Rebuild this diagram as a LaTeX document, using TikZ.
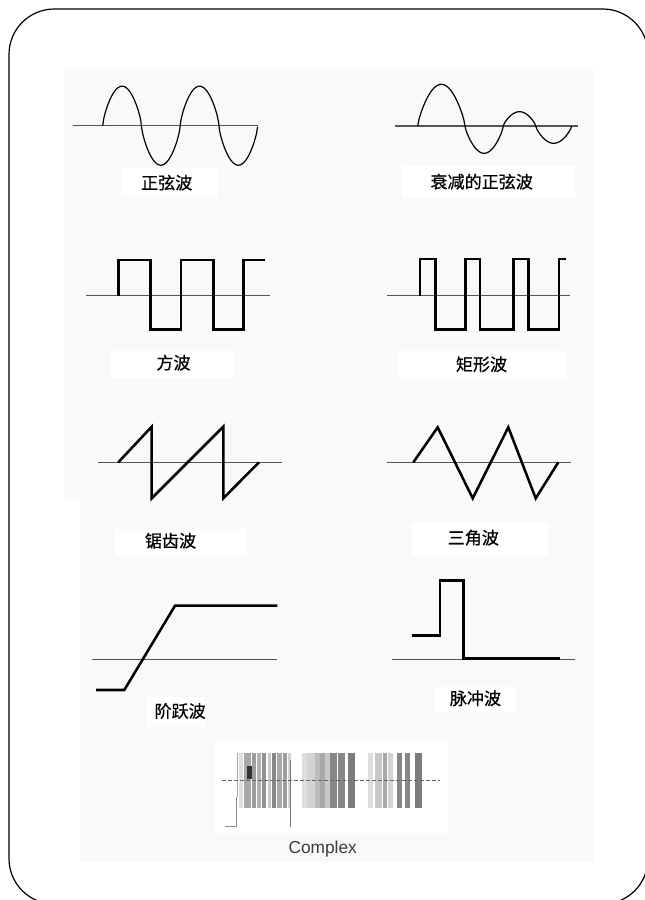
\documentclass[tikz,border=0pt]{standalone}
\usepackage{fontspec}
\newfontfamily\cjk[FakeBold=0.7]{Noto Sans CJK SC}
\newfontfamily\latinsans{Liberation Sans}
\usepackage{tikz}
\usetikzlibrary{calc}

\begin{document}
\begin{tikzpicture}[x=0.75pt,y=0.75pt,yscale=-1,xscale=1,
  axisline/.style={draw={rgb,255:red,85;green,85;blue,85},line width=0.8pt},
  wavethin/.style={draw=black,line width=0.9pt},
  wavethick/.style={draw=black,line width=1.9pt,line join=miter},
  labelbox/.style={fill=white,draw opacity=0},
  wavelabel/.style={inner sep=0.75pt,font=\cjk\fontsize{12.8}{15}\selectfont}]
\useasboundingbox (0,0) rectangle (645,900);

%Shape: Background
\fill [fill={rgb,255:red,249;green,249;blue,249}] (64,71) -- (594,71) -- (594,862) -- (80,862) -- (80,499) -- (64,499) -- cycle ;
%Shape: Rounded Frame
\draw [line width=0.9pt, rounded corners=34] (9,9) rectangle (648,904) ;

%Shape: Label Boxes
\fill [labelbox] (121,168) rectangle (218,197) ;
\fill [labelbox] (402,166) rectangle (575,198) ;
\fill [labelbox] (110.7,351) rectangle (234,378) ;
\fill [labelbox] (398,351) rectangle (567,379) ;
\fill [labelbox] (115,529.3) rectangle (246.7,556.7) ;
\fill [labelbox] (411.7,521.7) rectangle (548.3,556.7) ;
\fill [labelbox] (147.3,696.7) rectangle (205,726.7) ;
\fill [labelbox] (435,686.7) rectangle (516,712) ;
\fill [labelbox] (215,740) rectangle (448.3,833.3) ;

%Sine wave
\draw [axisline] (72.7,125.7) -- (258,125.7) ;
\draw [wavethin] plot [domain=0:4, samples=160] ({102.7+38.75*\x},{125.7-39.5*sin(180*\x)*(abs(sin(180*\x))+0.0001)^(-0.3)}) ;

%Damped sine wave
\draw [axisline] (395,126) -- (578.3,126) ;
\foreach \a/\b/\h in {417.7/465/41.7, 465/503.3/-27.3, 503.3/535.7/14.3, 535.7/571.7/-17.3}
  \draw [wavethin] plot [domain=0:1, samples=40] ({\a+(\b-\a)*\x},{126-(\h)*(sin(180*\x))^0.75}) ;

%Square wave
\draw [axisline] (86,295.7) -- (270,295.7) ;
\draw [wavethick] (118.3,295.7) -- (118.3,260) -- (150.7,260) -- (150.7,329.3) -- (181,329.3) -- (181,260) -- (213.3,260) -- (213.3,329.3) -- (243.7,329.3) -- (243.7,260) -- (265,260) ;

%Rectangular wave
\draw [axisline] (386.7,295.7) -- (570,295.7) ;
\draw [wavethick] (420,295.7) -- (420,259) -- (435.7,259) -- (435.7,329.3) -- (465.7,329.3) -- (465.7,259) -- (480,259) -- (480,329.3) -- (513.3,329.3) -- (513.3,259) -- (528.3,259) -- (528.3,329.3) -- (559,329.3) -- (559,259) -- (565.7,259) ;

%Sawtooth wave
\draw [axisline] (97.7,462.3) -- (281.7,462.3) ;
\draw [wavethick] (118.3,462.3) -- (151.7,426.7) -- (151.7,498.3) -- (223.3,426.7) -- (223.3,498.3) -- (259,462.3) ;

%Triangle wave
\draw [axisline] (386.7,462.3) -- (571,462.3) ;
\draw [wavethick] (413.3,462.3) -- (437.7,427.3) -- (472.7,498.3) -- (508.3,427.3) -- (535.7,498.3) -- (558.3,462.3) ;

%Step wave
\draw [axisline] (92.3,659.3) -- (276.7,659.3) ;
\draw [wavethick] (96,690) -- (124.3,690) -- (175,605.7) -- (277.3,605.7) ;

%Pulse wave
\draw [axisline] (391.7,659.3) -- (575,659.3) ;
\draw [wavethick] (411.7,635.7) -- (440,635.7) -- (440,580.7) -- (463.3,580.7) -- (463.3,658.3) -- (560,658.3) ;

%Complex signal
\foreach \bx/\bw/\bs in {238.5/4/15, 244/7/40, 252/4/45, 257/4/35, 262/4/50, 267.5/3.5/25, 271.5/4/55, 276.5/5/40, 282.5/4.5/45, 287.5/3/20,
    301.7/5/15, 307/8/20, 315/5/30, 320/5/40, 325/5/25, 330/6.5/55, 338.3/6.5/55, 348.3/6.5/60,
    368.3/5/15, 375/6.5/25, 382.7/4/40, 388.3/5/20, 396.7/5/55, 405/5/55, 415/6.5/60}
  \fill [black!\bs, fill opacity=0.85] (\bx,753.3) rectangle ++(\bw,55) ;
\fill [black!80] (246.7,766) rectangle (251.7,779.3) ;
\draw [black!35, line width=0.6pt] (237.2,753.3) -- (237.2,796.7) ;
\draw [black!45, line width=0.6pt] (225,826.7) -- (236.7,826.7) -- (236.7,796.7) ;
\draw [black!55, line width=0.6pt] (290.7,760) -- (290.7,826.7) ;
\draw [black!60, line width=0.7pt, dash pattern={on 3pt off 1.5pt}] (221.7,780) -- (440,780) ;

% Text Node
\draw (166.7,182.7) node [wavelabel] (sinelabel) {正弦波};
% Text Node
\draw (481.7,181.7) node [wavelabel] (dampedlabel) {衰减的正弦波};
% Text Node
\draw (173.5,362.7) node [wavelabel] (squarelabel) {方波};
% Text Node
\draw (481.5,364.3) node [wavelabel] (rectlabel) {矩形波};
% Text Node
\draw (170.5,540.7) node [wavelabel] (sawlabel) {锯齿波};
% Text Node
\draw (473.3,537.7) node [wavelabel] (trilabel) {三角波};
% Text Node
\draw (180.1,711) node [wavelabel] (steplabel) {阶跃波};
% Text Node
\draw (475.5,698.3) node [wavelabel] (pulselabel) {脉冲波};
% Text Node
\draw (322.7,849.3) node [inner sep=0.75pt, text={rgb,255:red,60;green,60;blue,60}, font=\latinsans\fontsize{13}{15}\selectfont] (complexlabel) {Complex};

\end{tikzpicture}
\end{document}
